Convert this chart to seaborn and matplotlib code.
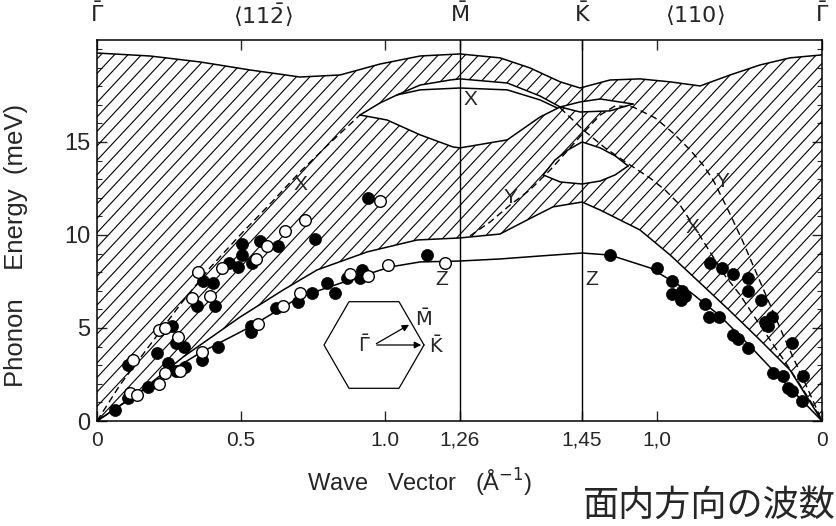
import numpy as np
import pandas as pd
import seaborn as sns
import matplotlib
matplotlib.use("Agg")
import matplotlib.pyplot as plt
from matplotlib.ticker import MultipleLocator
from matplotlib.collections import LineCollection
from matplotlib.patches import Polygon

# ---- path coordinate: Gamma(0) -> M(1.26) -> K(1.684 on axis) -> Gamma(2.517 on axis)
tick_pos = [0, 0.5, 1.0, 1.26, 1.684, 1.944, 2.517]
tick_lab = ["0", "0.5", "1.0", "1,26", "1,45", "1,0", "0"]
sym_pos = [0, 0.576, 1.26, 1.684, 2.076, 2.517]
sym_lab = [r"$\bar{\Gamma}$", r"$\langle 11\bar{2}\rangle$", r"$\bar{\mathrm{M}}$",
           r"$\bar{\mathrm{K}}$", r"$\langle 110\rangle$", r"$\bar{\Gamma}$"]
M_pos, K_pos = 1.26, 1.684

# ---- hatched band (bulk projected phonons)
band_top_s = [0, 0.184, 0.358, 0.531, 0.705, 0.844, 0.983, 1.122, 1.26, 1.399, 1.503, 1.608,
              1.677, 1.781, 1.885, 1.99, 2.094, 2.198, 2.302, 2.406, 2.517]
band_top_E = [19.78, 19.62, 19.30, 18.87, 18.49, 18.60, 19.19, 19.62, 19.73, 19.52, 18.98, 18.23,
              17.90, 18.33, 18.39, 18.23, 18.01, 18.60, 19.14, 19.52, 19.68]
band_low_s = [0, 0.149, 0.299, 0.497, 0.646, 0.764, 0.938, 1.111, 1.26, 1.399, 1.514, 1.583,
              1.684, 1.747, 1.885, 1.99, 2.094, 2.198, 2.302, 2.406, 2.517]
band_low_E = [0, 1.56, 3.44, 5.59, 7.04, 8.12, 9.09, 9.73, 9.84, 10.05, 10.97, 11.51,
              11.77, 11.34, 10.27, 8.92, 7.42, 5.91, 4.35, 2.74, 0]

# gaps (white lenses) inside the band
lens1_up_s = [0.913, 0.983, 1.042, 1.122, 1.226, 1.26, 1.424, 1.538, 1.608]
lens1_up_E = [16.45, 17.10, 17.53, 18.06, 18.33, 18.39, 18.17, 17.47, 16.88]
lens1_lo_s = [0.913, 1.007, 1.122, 1.236, 1.26, 1.424, 1.538, 1.608]
lens1_lo_E = [16.45, 16.18, 15.38, 14.73, 14.68, 15.11, 16.34, 16.88]
lens1_in_s = [1.042, 1.122, 1.26, 1.424, 1.538, 1.597]
lens1_in_E = [17.53, 17.80, 17.90, 17.80, 17.26, 16.83]
lens2_up_s = [1.608, 1.677, 1.747, 1.861]
lens2_up_E = [16.88, 17.15, 17.31, 17.04]
lens2_lo_s = [1.608, 1.677, 1.781, 1.861]
lens2_lo_E = [16.88, 16.61, 16.67, 17.04]
lens3_up_s = [1.549, 1.590, 1.635, 1.684, 1.747, 1.799, 1.844]
lens3_up_E = [13.23, 14.03, 14.57, 15.0, 14.68, 14.25, 13.71]
lens3_lo_s = [1.549, 1.608, 1.684, 1.747, 1.799, 1.844]
lens3_lo_E = [13.23, 12.85, 12.74, 12.90, 13.23, 13.71]

# surface modes
z_s = [0, 0.125, 0.243, 0.358, 0.531, 0.705, 0.878, 1.017, 1.122, 1.26, 1.399, 1.538, 1.684,
       1.781, 1.920, 2.059, 2.163, 2.267, 2.372, 2.517]
z_E = [0, 1.29, 2.58, 3.66, 5.05, 6.67, 7.58, 8.28, 8.55, 8.60, 8.71, 8.87, 9.03,
       8.92, 8.23, 6.94, 5.65, 4.03, 2.31, 0]
xl_s = [0, 0.0799, 0.184, 0.288, 0.392, 0.497, 0.601, 0.705, 0.809, 0.913]
xl_E = [0, 1.94, 4.09, 6.24, 8.23, 10.0, 11.67, 13.39, 14.95, 16.45]
xr_s = [1.608, 1.688, 1.764, 1.840, 1.92, 1.972, 2.024, 2.076, 2.128, 2.181, 2.233, 2.285,
        2.337, 2.389, 2.441, 2.483, 2.517]
xr_E = [16.83, 15.65, 14.68, 13.87, 13.06, 12.42, 11.61, 10.38, 9.09, 7.80, 6.77, 5.54,
        4.35, 3.17, 1.94, 0.91, 0]
y_s = [1.295, 1.365, 1.434, 1.503, 1.573, 1.642, 1.688, 1.747, 1.799, 1.861, 1.938, 2.0,
       2.059, 2.104, 2.139, 2.191, 2.24, 2.292, 2.337, 2.382, 2.424, 2.469, 2.517]
y_E = [9.95, 10.70, 11.61, 12.42, 13.49, 14.68, 15.48, 16.45, 16.94, 16.88, 16.29, 15.48,
       14.57, 13.76, 12.96, 11.34, 9.73, 7.85, 6.24, 4.62, 3.17, 1.67, 0]

# measured points
filled_s = [0.0625, 0.108, 0.177, 0.108, 0.208, 0.246, 0.26, 0.274, 0.274, 0.302, 0.306, 0.365,
            0.347, 0.368, 0.403, 0.41, 0.42, 0.458, 0.49, 0.503, 0.503, 0.538, 0.535, 0.535,
            0.566, 0.628, 0.622, 0.698, 0.747, 0.757, 0.799, 0.826, 0.868, 0.913, 0.92, 0.941,
            1.146,
            1.781, 1.944, 1.997, 1.997, 2.031, 2.042, 2.028, 2.111, 2.125, 2.16, 2.128, 2.17,
            2.208, 2.26, 2.26, 2.306, 2.344, 2.319, 2.33, 2.208, 2.226, 2.26, 2.413, 2.347,
            2.382, 2.4, 2.413, 2.451, 2.448]
filled_E = [0.59, 1.24, 1.83, 3.0, 3.66, 3.1, 5.1, 4.2, 2.7, 4.0, 2.9, 3.3,
            6.2, 7.5, 7.4, 6.2, 4.0, 8.5, 8.3, 9.5, 8.9, 8.5, 5.1, 4.8,
            9.7, 9.4, 6.1, 6.4, 6.9, 9.8, 7.4, 6.9, 7.7, 7.7, 8.1, 12.0,
            8.9,
            8.9, 8.2, 7.5, 6.8, 7.0, 6.7, 6.5, 6.3, 5.6, 5.6, 8.5, 8.2,
            7.9, 7.7, 7.0, 6.5, 5.6, 5.3, 5.1, 4.6, 4.4, 3.9, 4.2, 2.6,
            2.4, 1.8, 1.6, 2.4, 1.1]
open_s = [0.125, 0.115, 0.139, 0.215, 0.236, 0.215, 0.236, 0.281, 0.288, 0.33, 0.351, 0.365,
          0.392, 0.434, 0.552, 0.56, 0.59, 0.645, 0.653, 0.705, 0.722, 0.878, 0.941, 0.983,
          1.01, 1.208]
open_E = [3.3, 1.5, 1.4, 2.0, 2.6, 4.9, 5.0, 4.5, 2.7, 6.6, 8.0, 3.7,
          6.7, 8.2, 8.7, 5.2, 9.4, 6.2, 10.2, 6.9, 10.8, 7.9, 7.8, 11.8,
          8.4, 8.5]

branch_lab = ["X", "X", "Y", "Y", "X", "Z", "Z"]
branch_s = [0.705, 1.295, 1.434, 2.17, 2.069, 1.198, 1.719]
branch_E = [12.69, 17.26, 12.04, 12.85, 10.38, 7.58, 7.58]

# ---------------------------------------------------------------- drawing
DPI = 100
sns.set_style("ticks")
plt.rcParams["font.family"] = ["Liberation Sans", "DejaVu Sans"]

fig = plt.figure(figsize=(837 / DPI, 526 / DPI), dpi=DPI)
ax = fig.add_axes([97 / 837, 1 - 421 / 526, 725 / 837, 381 / 526])
ax.set_xlim(0, 2.517)
ax.set_ylim(0, 20.48)

# hatched band: diagonal hatch lines clipped to the band outline
band_poly = Polygon(np.c_[np.r_[band_top_s, band_low_s[::-1]],
                          np.r_[band_top_E, band_low_E[::-1]]],
                    closed=True, facecolor="none", edgecolor="none", zorder=1)
ax.add_patch(band_poly)
px_per_s, px_per_E = 725 / 2.517, 381 / 20.48
slope = np.tan(np.deg2rad(47)) * px_per_s / px_per_E       # meV per unit s
step = 13.5 / px_per_s
offsets = np.arange(-1.5, 2.6, step)
segs = [[(c, 0.0), (c + 21.0 / slope, 21.0)] for c in offsets]
hatch = LineCollection(segs, colors="black", linewidths=0.8, zorder=1)
ax.add_collection(hatch)
hatch.set_clip_path(band_poly)

# gaps
for us, ue, ls, le in [(lens1_up_s, lens1_up_E, lens1_lo_s, lens1_lo_E),
                       (lens2_up_s, lens2_up_E, lens2_lo_s, lens2_lo_E),
                       (lens3_up_s, lens3_up_E, lens3_lo_s, lens3_lo_E)]:
    ax.fill(np.r_[us, ls[::-1]], np.r_[ue, le[::-1]], facecolor="white",
            edgecolor="none", zorder=2)

solid = dict(color="black", linewidth=1.1, sort=False, estimator=None, ax=ax, zorder=3)
for xs, ys in [(band_top_s, band_top_E), (band_low_s, band_low_E), (z_s, z_E),
               (lens1_up_s, lens1_up_E), (lens1_lo_s, lens1_lo_E), (lens1_in_s, lens1_in_E),
               (lens2_up_s, lens2_up_E), (lens2_lo_s, lens2_lo_E),
               (lens3_up_s, lens3_up_E), (lens3_lo_s, lens3_lo_E)]:
    sns.lineplot(x=xs, y=ys, **solid)

dashed = dict(color="black", linewidth=1.0, sort=False, estimator=None, ax=ax, zorder=3,
              linestyle=(0, (5, 3)))
for xs, ys in [(xl_s, xl_E), (xr_s, xr_E), (y_s, y_E)]:
    sns.lineplot(x=xs, y=ys, **dashed)

ax.axvline(M_pos, color="black", linewidth=1.0, zorder=2.5)
ax.axvline(K_pos, color="black", linewidth=1.0, zorder=2.5)

sns.scatterplot(x=filled_s, y=filled_E, color="black", s=75, edgecolor="black",
                linewidth=0.5, ax=ax, zorder=5)
sns.scatterplot(x=open_s, y=open_E, color="white", s=70, edgecolor="black",
                linewidth=1.0, ax=ax, zorder=5)

for t, xs, ys in zip(branch_lab, branch_s, branch_E):
    ax.text(xs, ys, t, fontsize=15, ha="center", va="center", zorder=6)

ax.set_xlim(0, 2.517)
ax.set_ylim(0, 20.48)
ax.set_xticks(tick_pos)
ax.set_xticklabels(tick_lab, fontsize=15)
ax.set_yticks([0, 5, 10, 15])
ax.set_yticklabels(["0", "5", "10", "15"], fontsize=17)
ax.yaxis.set_minor_locator(MultipleLocator(1))
ax.tick_params(axis="both", which="major", direction="in", length=7, width=1.0,
               top=True, right=True)
ax.tick_params(axis="x", which="major", pad=7)
ax.tick_params(axis="y", which="major", pad=5)
ax.tick_params(axis="y", which="minor", direction="in", length=3.5, width=0.8,
               right=True)
for sp in ax.spines.values():
    sp.set_visible(True)
    sp.set_linewidth(1.1)
    sp.set_color("black")

ax.set_ylabel("Phonon    Energy  (meV)", fontsize=18.5)
ax.yaxis.set_label_coords(-0.095, 0.462)
ax.set_xlabel("")

for p, lab in zip(sym_pos, sym_lab):
    ax.text(p, 1.066, lab, transform=ax.get_xaxis_transform(), ha="center", va="center",
            fontsize=16)

fig.text(420 / 837, 1 - 483 / 526, r"Wave   Vector   (Å$^{-1}$)", ha="center", va="center",
         fontsize=17)
fig.text(709 / 837, 1 - 506 / 526, "面内方向の波数", ha="center", va="center",
         fontsize=26, family=["Noto Sans CJK JP", "DejaVu Sans"])

# Brillouin-zone sketch
axi = fig.add_axes([(374 - 70) / 837, 1 - (345 + 60) / 526, 140 / 837, 120 / 526])
ang = np.deg2rad(np.arange(0, 361, 60))
axi.plot(np.cos(ang), np.sin(ang), color="black", linewidth=0.9)
axi.annotate("", xy=(1.0, 0.0), xytext=(0, 0),
             arrowprops=dict(arrowstyle="-|>", color="black", lw=0.9, mutation_scale=10))
axi.annotate("", xy=(0.75, 0.433), xytext=(0, 0),
             arrowprops=dict(arrowstyle="-|>", color="black", lw=0.9, mutation_scale=10))
axi.text(-0.06, 0.0, r"$\bar{\Gamma}$", ha="right", va="center", fontsize=14)
axi.text(0.82, 0.52, r"$\bar{\mathrm{M}}$", ha="left", va="center", fontsize=14)
axi.text(1.10, -0.02, r"$\bar{\mathrm{K}}$", ha="left", va="center", fontsize=14)
axi.set_xlim(-1.4, 1.4)
axi.set_ylim(-1.2, 1.2)
axi.axis("off")

fig.savefig("out.png", dpi=DPI)
